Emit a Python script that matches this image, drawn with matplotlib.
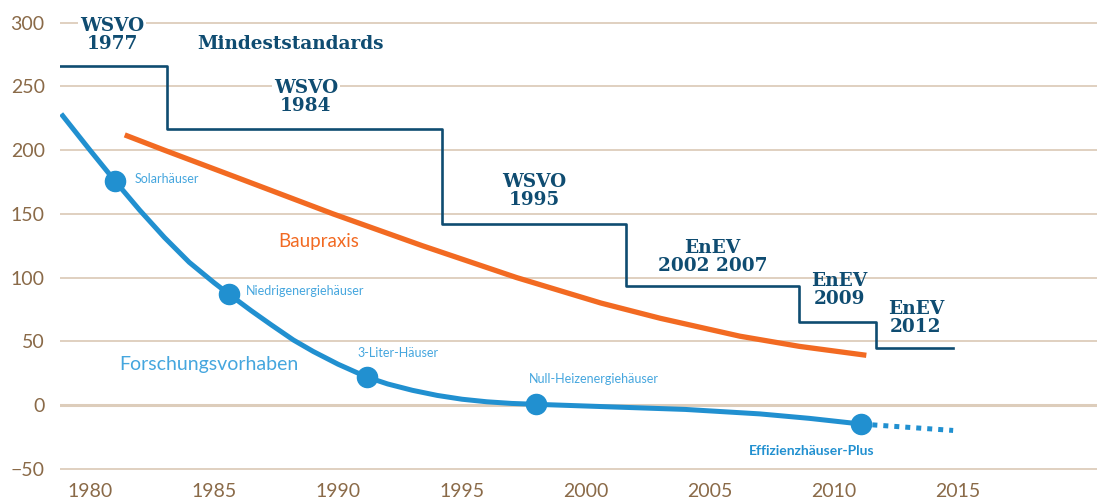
import matplotlib
matplotlib.use("Agg")
import matplotlib.pyplot as plt

# Mindeststandards (step line)
std_years = [1978.8, 1983.1, 1994.2, 2001.6, 2008.6, 2011.7, 2014.8]
std_values = [266, 217, 142, 93, 65, 45, 45]

# Baupraxis
bau_years = [1981.4, 1983.0, 1986.0, 1989.8, 1993.4, 1997.2, 2000.6, 2003.0, 2006.2, 2008.6, 2011.3]
bau_values = [212, 200, 178, 150, 125, 100, 80, 68, 54, 46, 39]

# Forschungsvorhaben
res_years = [1978.9, 1980.0, 1981.0, 1982.0, 1983.0, 1984.0, 1985.0, 1985.6, 1986.5, 1987.3,
             1988.2, 1989.0, 1990.0, 1991.15, 1992.0, 1993.0, 1994.0, 1995.0, 1996.0, 1997.0,
             1998.0, 2001.0, 2004.0, 2007.0, 2009.0, 2011.1]
res_values = [227, 200, 176, 153, 131.5, 112, 96, 87, 74, 63,
              51, 42, 32, 22, 16.5, 11.5, 7.5, 4.5, 2.5, 1.2,
              0.5, -1.5, -3.5, -7, -10.5, -15]
res_future_years = [2011.1, 2014.8]
res_future_values = [-15, -20]

milestone_years = [1981.0, 1985.6, 1991.15, 1998.0, 2011.1]
milestone_values = [176, 87, 22, 0.5, -15]

x_ticks = [1980, 1985, 1990, 1995, 2000, 2005, 2010, 2015]
y_ticks = [-50, 0, 50, 100, 150, 200, 250, 300]

NAVY = "#0f4c71"
ORANGE = "#f26a22"
BLUE = "#2190d0"
LBLUE = "#45a6de"
GRID = "#ddcdbb"
TICK = "#8a6a48"
SANS = ["Lato", "DejaVu Sans"]

fig = plt.figure(figsize=(10.97, 5.03), dpi=100)
ax = fig.add_axes([60 / 1097, 23 / 503, 1 - 60 / 1097, 480 / 503])
ax.set_xlim(1978.79, 2020.6)
ax.set_ylim(-58.9, 317.9)

for s in ax.spines.values():
    s.set_visible(False)
ax.set_xticks(x_ticks)
ax.set_yticks(y_ticks)
ax.tick_params(length=0, labelcolor=TICK, labelsize=14)
ax.tick_params(axis="y", pad=11)
ax.tick_params(axis="x", pad=2)
for lab in ax.get_xticklabels() + ax.get_yticklabels():
    lab.set_family(SANS)

for v in y_ticks:
    ax.axhline(v, color=GRID, lw=2.2 if v == 0 else 1.3, zorder=0)

ax.step(std_years, std_values, where="post", color=NAVY, lw=1.9, zorder=2)
ax.plot(bau_years, bau_values, color=ORANGE, lw=3.8, solid_capstyle="butt",
        solid_joinstyle="round", zorder=3)
ax.plot(res_years, res_values, color=BLUE, lw=3.6, solid_joinstyle="round", zorder=3)
ax.plot(res_future_years, res_future_values, color=BLUE, lw=3.6, ls=(0, (1, 1.2)), zorder=3)
ax.plot(milestone_years, milestone_values, "o", color=BLUE, ms=14.5, zorder=4)

serif = dict(family=["DejaVu Serif"], fontweight="bold", color=NAVY, fontsize=13.3,
             ha="center", va="center", linespacing=1.0)
bg = dict(facecolor="white", edgecolor="none", pad=1.5)
ax.text(1980.9, 290.5, "WSVO\n1977", bbox=bg, zorder=5, **serif)
ax.text(1988.1, 283, "Mindeststandards", **serif)
ax.text(1988.7, 242, "WSVO\n1984", bbox=bg, zorder=5, **serif)
ax.text(1997.9, 168, "WSVO\n1995", **serif)
ax.text(2005.1, 116.5, "EnEV\n2002 2007", **serif)
ax.text(2010.2, 90, "EnEV\n2009", **serif)
ax.text(2013.3, 68, "EnEV\n2012", **serif)

ax.text(1989.2, 128.5, "Baupraxis", family=SANS, color=ORANGE,
        fontsize=13.5, ha="center", va="center")
ax.text(1984.8, 31.5, "Forschungsvorhaben", family=SANS, color=LBLUE,
        fontsize=14, ha="center", va="center")
small = dict(family=SANS, color=LBLUE, fontsize=9, va="center")
ax.text(1981.8, 177, "Solarhäuser", ha="left", **small)
ax.text(1986.3, 89.5, "Niedrigenergiehäuser", ha="left", **small)
ax.text(1992.4, 41, "3-Liter-Häuser", ha="center", **small)
ax.text(2000.3, 20.5, "Null-Heizenergiehäuser", ha="center", **small)
ax.text(2009.1, -36, "Effizienzhäuser-Plus", family=SANS, fontweight="bold", color=BLUE,
        fontsize=10, ha="center", va="center")

fig.savefig("out.png", dpi=100)
